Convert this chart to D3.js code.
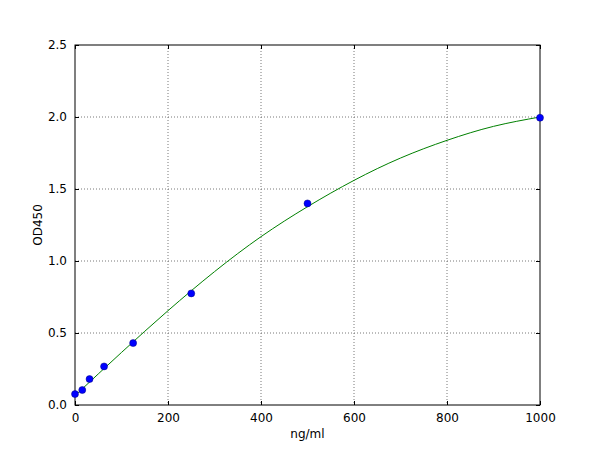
<!DOCTYPE html>
<html>
<head>
<meta charset="utf-8">
<script src="https://cdn.jsdelivr.net/npm/d3@7"></script>
<style>
  body { margin: 0; background: #fff; }
  text { font-family: "DejaVu Sans", sans-serif; font-size: 12px; fill: #000; }
</style>
</head>
<body>
<div id="graphic"></div>
<script>
// standard points (ng/ml, OD450)
var conc = [0, 15.6, 31.25, 62.5, 125, 250, 500, 1000];
var od = [0.076, 0.104, 0.18, 0.268, 0.43, 0.775, 1.40, 1.995];

// fitted curve
var curveX = [0, 100, 200, 300, 400, 500, 600, 700, 800, 900, 1000];
var curveY = [0.065, 0.365, 0.655, 0.926, 1.169, 1.377, 1.56, 1.715, 1.838, 1.935, 2.0];

var xTicks = [0, 200, 400, 600, 800, 1000];
var yTicks = [0.0, 0.5, 1.0, 1.5, 2.0, 2.5];

var margin = {top: 45, right: 60, bottom: 45, left: 75};
var width = 600 - margin.left - margin.right,
    height = 450 - margin.top - margin.bottom;

var svg = d3.select("#graphic").append("svg")
    .attr("width", 600)
    .attr("height", 450)
    .append("g")
    .attr("transform", "translate(" + margin.left + "," + margin.top + ")");

var xScale = d3.scaleLinear().domain([0, 1000]).range([0, width]);
var yScale = d3.scaleLinear().domain([0, 2.5]).range([height, 0]);

// grid
svg.append("g")
    .selectAll("line.vg")
    .data(xTicks.slice(1, -1))
    .enter().append("line")
    .attr("x1", d => xScale(d)).attr("x2", d => xScale(d))
    .attr("y1", 0).attr("y2", height)
    .attr("stroke", "#555").attr("stroke-width", 0.8)
    .attr("stroke-dasharray", "1,2");
svg.append("g")
    .selectAll("line.hg")
    .data(yTicks.slice(1, -1))
    .enter().append("line")
    .attr("x1", 0).attr("x2", width)
    .attr("y1", d => yScale(d)).attr("y2", d => yScale(d))
    .attr("stroke", "#555").attr("stroke-width", 0.8)
    .attr("stroke-dasharray", "1,2");

// axes, ticks pointing inward
var fmtX = d3.format("d");
var fmtY = d3.format(".1f");
svg.append("g")
    .attr("transform", "translate(0," + height + ")")
    .call(d3.axisBottom(xScale).tickValues(xTicks).tickFormat(fmtX).tickSizeInner(-4).tickSizeOuter(0).tickPadding(8))
    .call(g => g.select(".domain").remove())
    .call(g => g.selectAll("text").attr("font-size", 12).attr("font-family", "DejaVu Sans").attr("fill", "#000"));
svg.append("g")
    .call(d3.axisTop(xScale).tickValues(xTicks).tickSizeInner(-4).tickSizeOuter(0).tickFormat(""))
    .call(g => g.select(".domain").remove());
svg.append("g")
    .call(d3.axisLeft(yScale).tickValues(yTicks).tickFormat(fmtY).tickSizeInner(-4).tickSizeOuter(0).tickPadding(8))
    .call(g => g.select(".domain").remove())
    .call(g => g.selectAll("text").attr("font-size", 12).attr("font-family", "DejaVu Sans").attr("fill", "#000"));
svg.append("g")
    .attr("transform", "translate(" + width + ",0)")
    .call(d3.axisRight(yScale).tickValues(yTicks).tickSizeInner(-4).tickSizeOuter(0).tickFormat(""))
    .call(g => g.select(".domain").remove());

// frame
svg.append("rect")
    .attr("width", width).attr("height", height)
    .attr("fill", "none").attr("stroke", "#000").attr("stroke-width", 1);

// fitted curve
var line = d3.line()
    .x(d => xScale(d[0]))
    .y(d => yScale(d[1]))
    .curve(d3.curveNatural);
svg.append("path")
    .datum(curveX.map((x, i) => [x, curveY[i]]))
    .attr("d", line)
    .attr("fill", "none")
    .attr("stroke", "#008000")
    .attr("stroke-width", 1);

// points
svg.append("g")
    .selectAll("circle")
    .data(conc.map((c, i) => [c, od[i]]))
    .enter().append("circle")
    .attr("cx", d => xScale(d[0]))
    .attr("cy", d => yScale(d[1]))
    .attr("r", 3.5)
    .attr("fill", "#0000ff")
    .attr("stroke", "#000080")
    .attr("stroke-width", 0.5);

// labels
svg.append("text")
    .attr("x", width / 2)
    .attr("y", height + 33)
    .attr("text-anchor", "middle")
    .text("ng/ml");
svg.append("text")
    .attr("transform", "translate(-33," + (height / 2) + ") rotate(-90)")
    .attr("text-anchor", "middle")
    .text("OD450");
</script>
</body>
</html>
